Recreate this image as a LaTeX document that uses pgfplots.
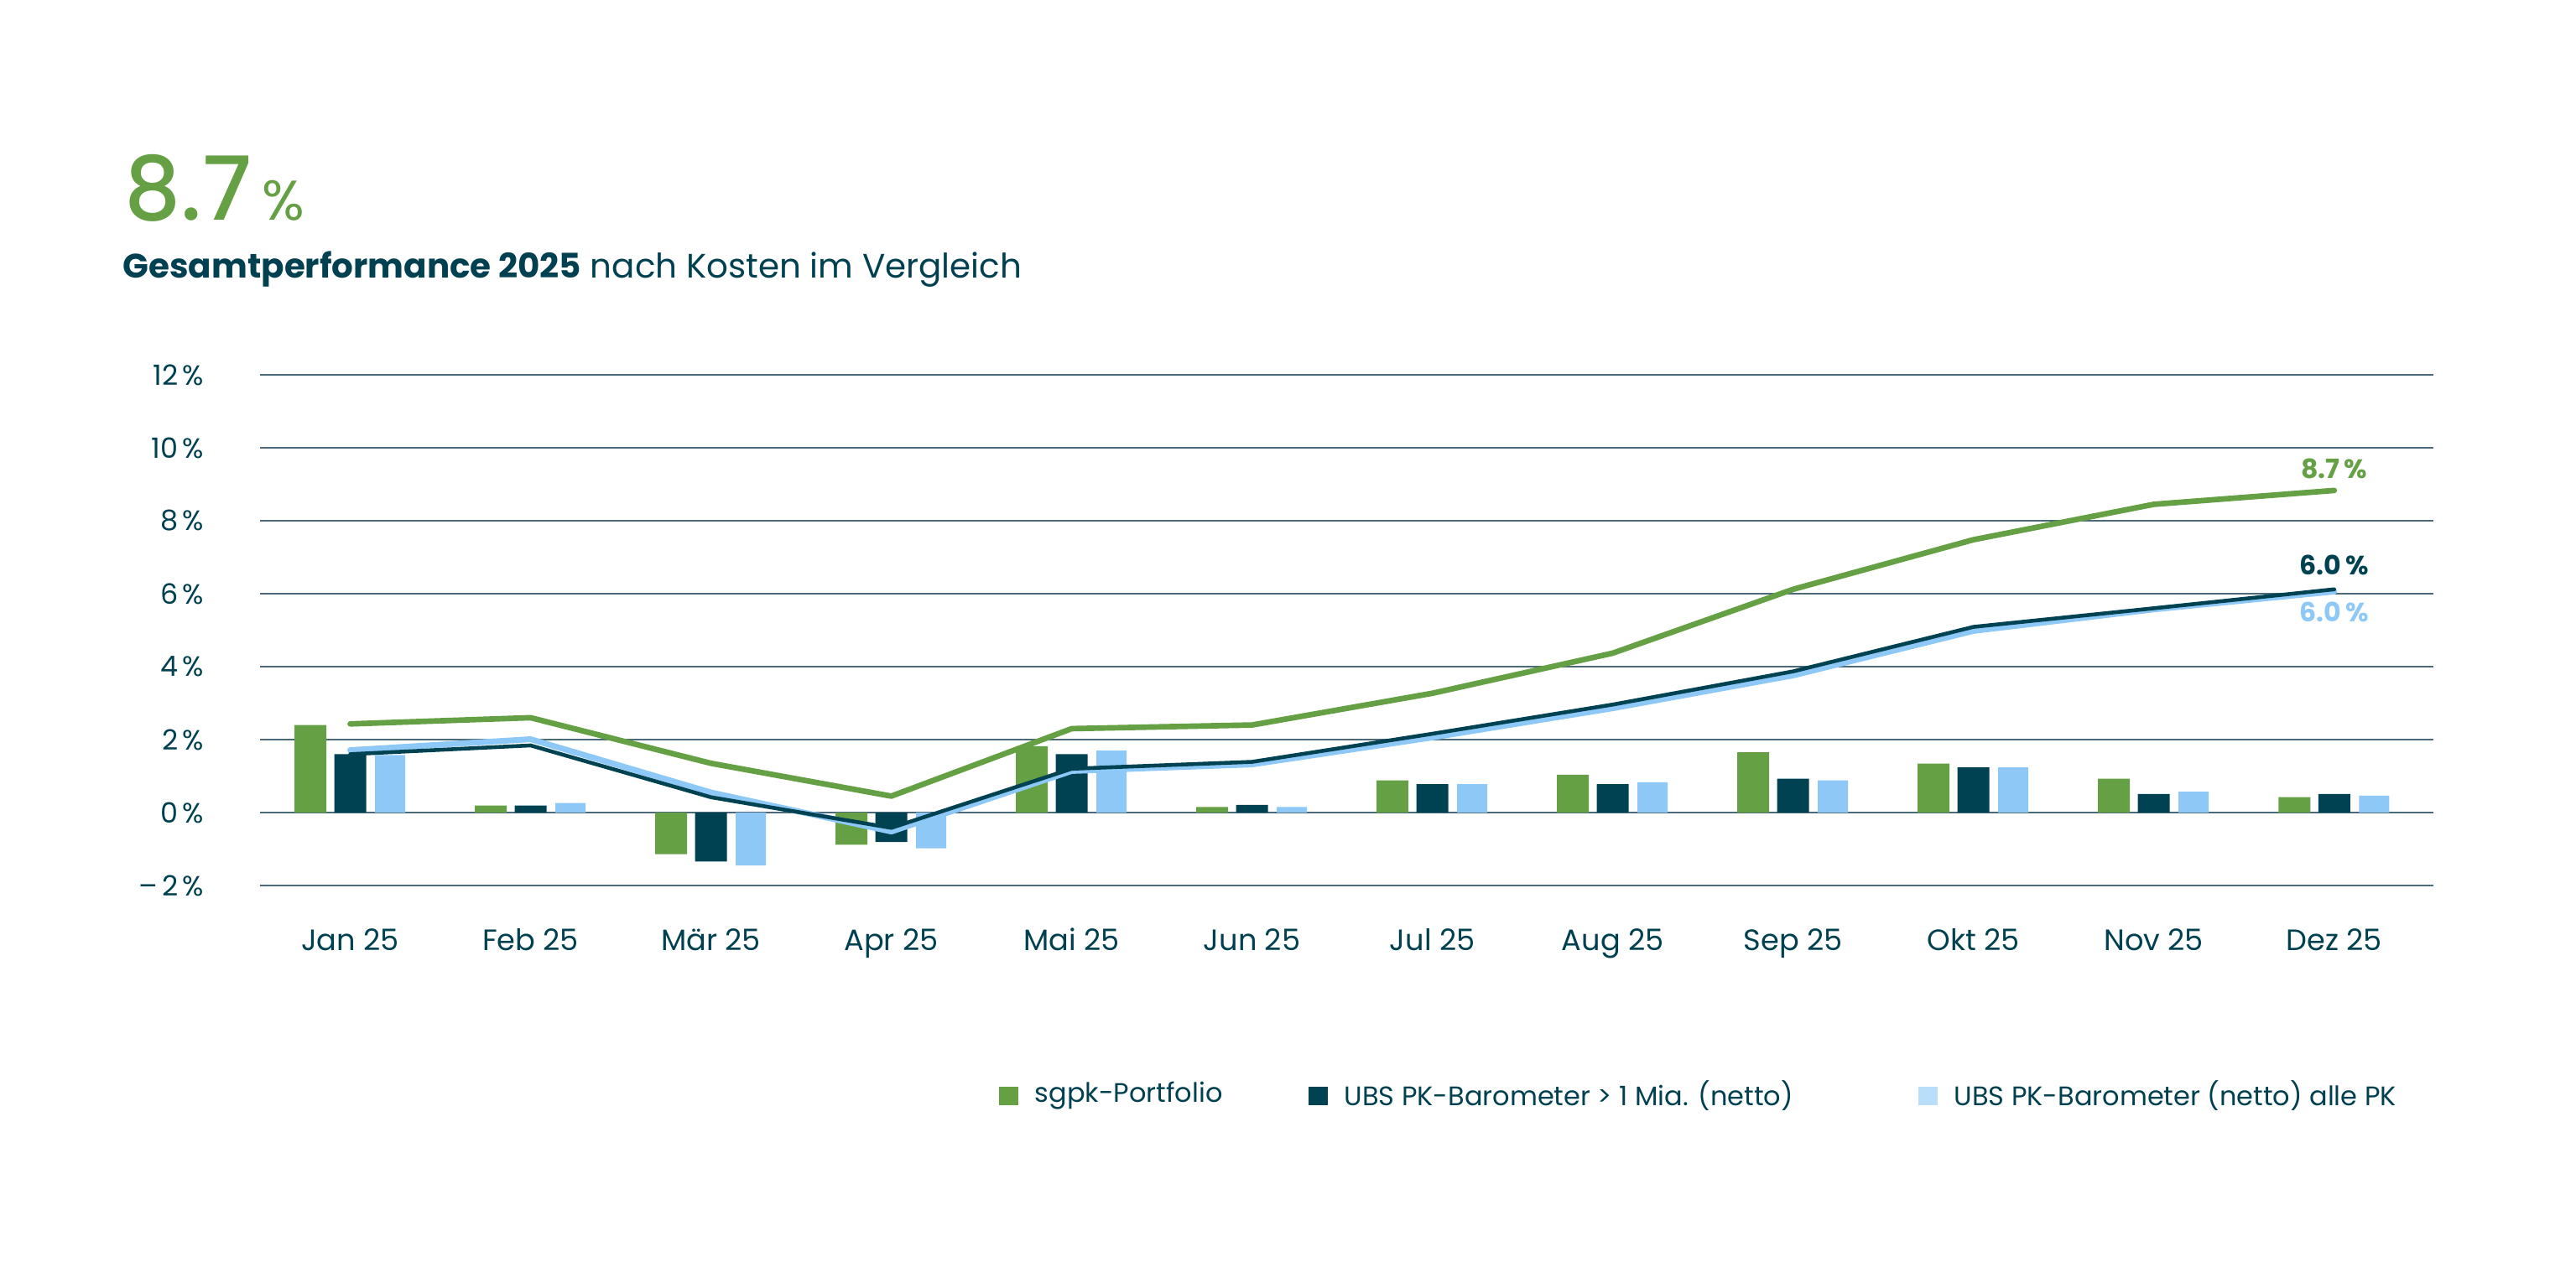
\documentclass[border=0pt]{standalone}
\usepackage{pgfplots}
\pgfplotsset{compat=1.18}
\usepackage{pgfplotstable}
\usepackage{fontspec}
\setmainfont{Poppins}
\newfontfamily\pmed{Poppins Medium}
\definecolor{sgreen}{RGB}{101,160,69}
\definecolor{sdark}{RGB}{0,66,82}
\definecolor{slight}{RGB}{141,200,246}
\definecolor{slegl}{RGB}{185,222,250}
\definecolor{tdark}{RGB}{0,64,80}
\definecolor{gridc}{RGB}{75,105,120}

\pgfplotstableread{
x  g     d     l
0  2.40  1.60  1.58
1  0.19  0.19  0.26
2  -1.14 -1.34 -1.45
3  -0.88 -0.81 -0.98
4  1.82  1.60  1.70
5  0.15  0.21  0.15
6  0.88  0.78  0.78
7  1.04  0.78  0.83
8  1.65  0.93  0.88
9  1.34  1.24  1.24
10 0.93  0.51  0.57
11 0.42  0.51  0.46
}\monthly

\pgfplotstableread{
x  g     d     l
0  2.43  1.60  1.71
1  2.60  1.84  2.01
2  1.35  0.42  0.55
3  0.45  -0.42 -0.52
4  2.30  1.20  1.14
5  2.40  1.39  1.32
6  3.27  2.16  2.06
7  4.37  2.96  2.86
8  6.12  3.87  3.76
9  7.48  5.09  4.98
10 8.45  5.60  5.57
11 8.83  6.12  6.06
}\cumul

\begin{document}
\begin{tikzpicture}
\useasboundingbox (0,0) rectangle (307.1mm,153.5mm);
\node[anchor=base west, inner sep=0, text=sgreen, font=\pmed\fontsize{30}{30}\selectfont] at (14.8mm,127.2mm) {8.7};
\node[anchor=base west, inner sep=0, text=sgreen, font=\fontsize{19}{19}\selectfont] at (31.2mm,127.2mm) {\%};
\node[anchor=base west, inner sep=0, text=tdark, font=\fontsize{11.5}{12}\selectfont] at (14.6mm,120.3mm) {\textbf{Gesamtperformance 2025} nach Kosten im Vergleich};

\begin{axis}[
  at={(31mm,47.9mm)}, anchor=south west,
  scale only axis, width=259.1mm, height=60.9mm,
  xmin=-0.5, xmax=11.55, ymin=-2, ymax=12,
  clip=false,
  axis line style={draw=none},
  major tick length=0pt,
  ymajorgrids, grid style={draw=gridc, line width=0.6pt},
  ytick={-2,0,2,4,6,8,10,12},
  yticklabels={{–\,2\,\%},{0\,\%},{2\,\%},{4\,\%},{6\,\%},{8\,\%},{10\,\%},{12\,\%}},
  yticklabel style={anchor=east, inner sep=0pt, xshift=-6.6mm, text=tdark, font=\fontsize{9.5}{10}\selectfont},
  xtick={0,...,11},
  xticklabels={Jan 25,Feb 25,Mär 25,Apr 25,Mai 25,Jun 25,Jul 25,Aug 25,Sep 25,Okt 25,Nov 25,Dez 25},
  xticklabel style={anchor=base, inner sep=0pt, yshift=-7.7mm, text=tdark, font=\fontsize{10}{10}\selectfont},
]
\addplot[ybar, bar width=3.8mm, bar shift=-4.75mm, fill=sgreen, draw=none] table[x=x,y=g] {\monthly};
\addplot[ybar, bar width=3.8mm, bar shift=0mm, fill=sdark, draw=none] table[x=x,y=d] {\monthly};
\addplot[ybar, bar width=3.6mm, bar shift=4.75mm, fill=slight, draw=none] table[x=x,y=l] {\monthly};

\addplot[slight, line width=2.0pt, no marks, line join=round, line cap=round] table[x=x,y=l] {\cumul};
\addplot[sdark, line width=1.3pt, no marks, line join=round, line cap=round] table[x=x,y=d] {\cumul};
\addplot[sgreen, line width=1.9pt, no marks, line join=round, line cap=round] table[x=x,y=g] {\cumul};

\node[anchor=base, inner sep=0, text=sgreen, font=\bfseries\fontsize{9}{9}\selectfont] at (axis cs:11,9.17) {8.7\,\%};
\node[anchor=base, inner sep=0, text=sdark, font=\bfseries\fontsize{9}{9}\selectfont] at (axis cs:11,6.51) {6.0\,\%};
\node[anchor=base, inner sep=0, text=slight, font=\bfseries\fontsize{9}{9}\selectfont] at (axis cs:11,5.24) {6.0\,\%};
\end{axis}

% legend
\fill[sgreen] (119.1mm,21.7mm) rectangle ++(2.3mm,2.2mm);
\node[anchor=west, inner sep=0, text=tdark, font=\fontsize{9.1}{9.5}\selectfont] at (123.3mm,22.8mm) {sgpk-Portfolio};
\fill[sdark] (156.0mm,21.7mm) rectangle ++(2.3mm,2.2mm);
\node[anchor=west, inner sep=0, text=tdark, font=\fontsize{9.1}{9.5}\selectfont] at (160.2mm,22.8mm) {UBS PK-Barometer > 1 Mia. (netto)};
\fill[slegl] (228.7mm,21.7mm) rectangle ++(2.3mm,2.2mm);
\node[anchor=west, inner sep=0, text=tdark, font=\fontsize{9.1}{9.5}\selectfont] at (232.9mm,22.8mm) {UBS PK-Barometer (netto) alle PK};
\end{tikzpicture}
\end{document}
